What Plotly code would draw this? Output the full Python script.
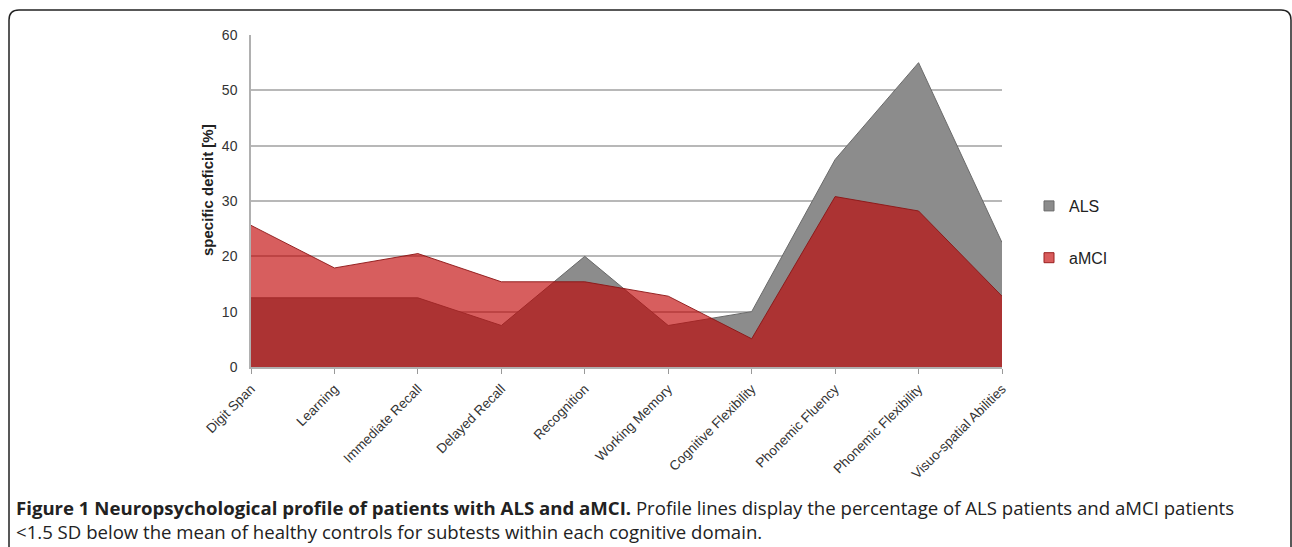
import plotly.graph_objects as go

categories = ["Digit Span", "Learning", "Immediate Recall", "Delayed Recall", "Recognition",
              "Working Memory", "Cognitive Flexibility", "Phonemic Fluency",
              "Phonemic Flexibility", "Visuo-spatial Abilities"]
als = [12.5, 12.5, 12.5, 7.5, 20.0, 7.5, 10.0, 37.5, 55.0, 22.5]
amci = [25.6, 17.9, 20.5, 15.4, 15.4, 12.8, 5.1, 30.8, 28.2, 12.8]
y_ticks = [0, 10, 20, 30, 40, 50, 60]

W, H = 1292, 547
def px(x):
    return x / W
def py(y):
    return 1 - y / H

fig = go.Figure()
fig.add_trace(go.Scatter(x=categories, y=als, mode="lines", fill="tozeroy",
                         line=dict(color="#6a6a6a", width=1),
                         fillcolor="#8c8c8c", showlegend=False, hoverinfo="skip"))
fig.add_trace(go.Scatter(x=categories, y=amci, mode="lines", fill="tozeroy",
                         line=dict(color="rgba(140,20,20,0.9)", width=1),
                         fillcolor="rgba(192,0,0,0.63)", showlegend=False, hoverinfo="skip"))
# legend entries
fig.add_trace(go.Scatter(x=[None], y=[None], mode="markers", name="ALS", legendgroup="a",
                         marker=dict(symbol="square", size=10, color="#8c8c8c",
                                     line=dict(color="#6a6a6a", width=1))))
fig.add_trace(go.Scatter(x=[None], y=[None], mode="markers", name="aMCI", legendgroup="b",
                         marker=dict(symbol="square", size=10, color="#d85c5c",
                                     line=dict(color="#9a2020", width=1))))

fig.update_layout(
    width=W, height=H,
    margin=dict(l=0, r=0, t=0, b=0),
    paper_bgcolor="white", plot_bgcolor="white",
    font=dict(family="Liberation Sans, Arial", color="#222"),
    xaxis=dict(domain=[px(251), px(1002)], type="category", range=[0, 9],
               tickangle=-45, tickfont=dict(size=13.5, color="#333"),
               ticklabelstandoff=2,
               showgrid=False, showline=True, linecolor="#b0b0b0", linewidth=1.5,
               ticks="outside", ticklen=5, tickcolor="#999", automargin=False),
    yaxis=dict(domain=[py(367), py(35)], range=[0, 60], tickvals=y_ticks,
               tickfont=dict(size=14, color="#333"), ticklabelstandoff=9,
               showgrid=True, gridcolor="#b8b8b8", gridwidth=1.5,
               showline=True, linecolor="#b0b0b0", linewidth=1.5,
               zeroline=False, ticks="", automargin=False),
    legend=dict(x=px(1029), y=py(189), xanchor="left", yanchor="top",
                font=dict(size=16, color="#222"), tracegroupgap=28,
                itemwidth=30, bgcolor="rgba(0,0,0,0)"),
    shapes=[dict(type="path", xref="paper", yref="paper",
                 path=(f"M {px(9)},{py(560)} L {px(9)},{py(20)} "
                       f"Q {px(9)},{py(10)} {px(19)},{py(10)} "
                       f"L {px(1281)},{py(10)} Q {px(1291)},{py(10)} {px(1291)},{py(20)} "
                       f"L {px(1291)},{py(560)}"),
                 line=dict(color="#222", width=1.5))],
    annotations=[
        dict(xref="paper", yref="paper", x=px(207), y=py(190), xanchor="center", yanchor="middle",
             showarrow=False, textangle=-90, text="<b>specific deficit [%]</b>",
             font=dict(size=15, color="#222")),
        dict(xref="paper", yref="paper", x=px(14), y=py(519), xanchor="left", yanchor="middle",
             showarrow=False, align="left",
             text="<b>Figure 1 Neuropsychological profile of patients with ALS and aMCI.</b> "
                  "Profile lines display the percentage of ALS patients and aMCI patients"
                  "<br>&lt;1.5 SD below the mean of healthy controls for subtests within each cognitive domain.",
             font=dict(family="Open Sans", size=18.6, color="#222")),
    ],
)
fig.write_html("out.html", config={"displayModeBar": False},
               post_script="document.body.style.margin='0';")
